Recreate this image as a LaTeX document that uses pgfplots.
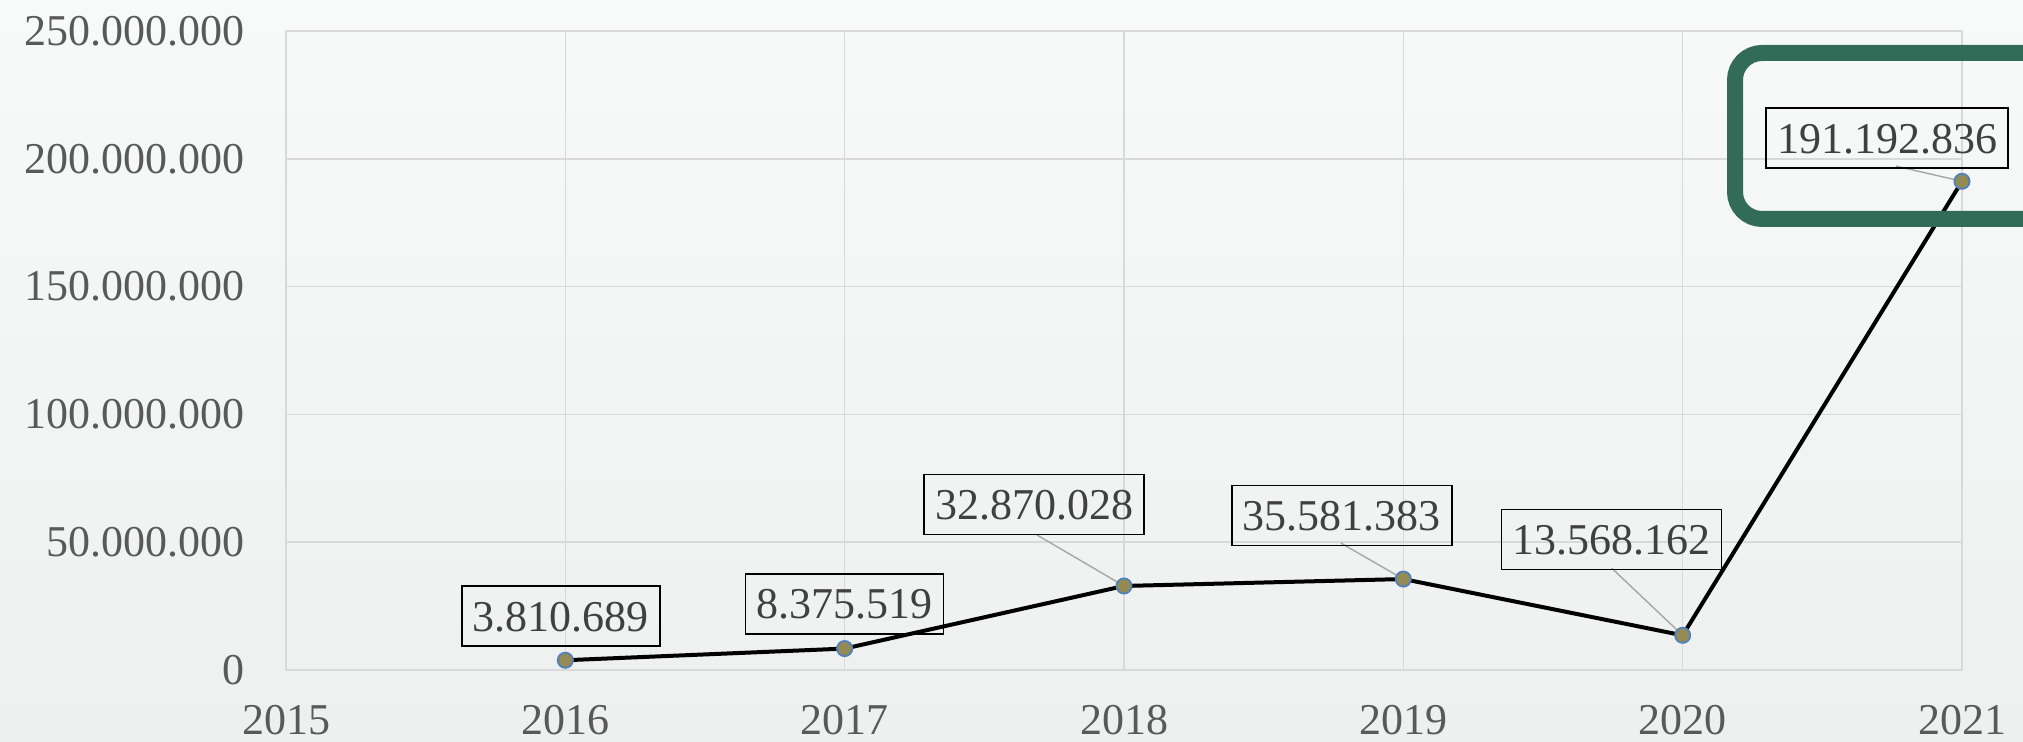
\documentclass[border=0pt]{standalone}
\usepackage{pgfplots}
\pgfplotsset{compat=1.18}
\usepackage{pgfplotstable}
\usepackage{fontspec}
\setmainfont{Liberation Serif}
\definecolor{tickgray}{HTML}{595959}
\definecolor{labgray}{HTML}{404040}
\definecolor{gridgray}{HTML}{D9D9D9}
\definecolor{leadgray}{HTML}{A6A6A6}
\definecolor{markfill}{HTML}{948A54}
\definecolor{markedge}{HTML}{4F81BD}
\definecolor{framegreen}{HTML}{336B59}
\definecolor{bgtop}{HTML}{F8FAFA}
\definecolor{bgbot}{HTML}{EEEFEF}
\pgfplotstableread{
year value
2016 3810689
2017 8375519
2018 32870028
2019 35581383
2020 13568162
2021 191192836
}\datatable
\tikzset{labbox/.style={anchor=center, font=\fontsize{22}{26}\selectfont, text=labgray,
  draw=black, line width=0.8pt, inner xsep=5.5pt, inner ysep=7.5pt,
  text height=15pt, text depth=0pt}}
\begin{document}
\begin{tikzpicture}
\clip (0pt,0pt) rectangle (1011.5pt,371pt);
\shade[top color=bgtop,bottom color=bgbot] (0pt,0pt) rectangle (1011.5pt,371pt);
\begin{axis}[
  at={(143pt,36pt)}, anchor=south west,
  scale only axis, width=838pt, height=319.5pt,
  xmin=2015, xmax=2021, ymin=0, ymax=250000000,
  xtick={2015,2016,2017,2018,2019,2020,2021},
  xticklabels={2015,2016,2017,2018,2019,2020,2021},
  ytick={0,50000000,100000000,150000000,200000000,250000000},
  yticklabels={0,50.000.000,100.000.000,150.000.000,200.000.000,250.000.000},
  scaled y ticks=false, scaled x ticks=false,
  grid=major, grid style={draw=gridgray, line width=0.8pt},
  axis line style={draw=gridgray, line width=0.8pt},
  major tick length=0pt,
  tick label style={font=\fontsize{22}{26}\selectfont, text=tickgray, inner sep=0pt},
  yticklabel style={anchor=east, xshift=-20.5pt},
  xticklabel style={anchor=north, yshift=-17.5pt},
  clip=false,
]
\draw[leadgray, line width=0.7pt] (axis cs:2018,32870028) -- ++(-43.5pt,25.5pt);
\draw[leadgray, line width=0.7pt] (axis cs:2019,35581383) -- ++(-31.25pt,18pt);
\draw[leadgray, line width=0.7pt] (axis cs:2020,13568162) -- ++(-35.5pt,33.6pt);
\draw[leadgray, line width=0.7pt] (axis cs:2021,191192836) -- ++(-33pt,7.6pt);
\addplot[black, line width=2pt, mark=*, mark size=3.8pt,
  mark options={fill=markfill, draw=markedge, line width=0.9pt}]
  table[x=year, y=value] {\datatable};
\node[labbox] at ([shift={(-2.25pt,22pt)}]axis cs:2016,3810689) {3.810.689};
\node[labbox] at ([shift={(0pt,22.3pt)}]axis cs:2017,8375519) {8.375.519};
\node[labbox] at ([shift={(-45pt,40.75pt)}]axis cs:2018,32870028) {32.870.028};
\node[labbox] at ([shift={(-30.75pt,31.75pt)}]axis cs:2019,35581383) {35.581.383};
\node[labbox] at ([shift={(-35.5pt,48pt)}]axis cs:2020,13568162) {13.568.162};
\node[labbox] at ([shift={(-37.5pt,21.5pt)}]axis cs:2021,191192836) {191.192.836};
\end{axis}
\draw[framegreen, line width=8pt, rounded corners=13.5pt] (867.5pt,261.5pt) rectangle (1040pt,344.5pt);
\end{tikzpicture}
\end{document}
